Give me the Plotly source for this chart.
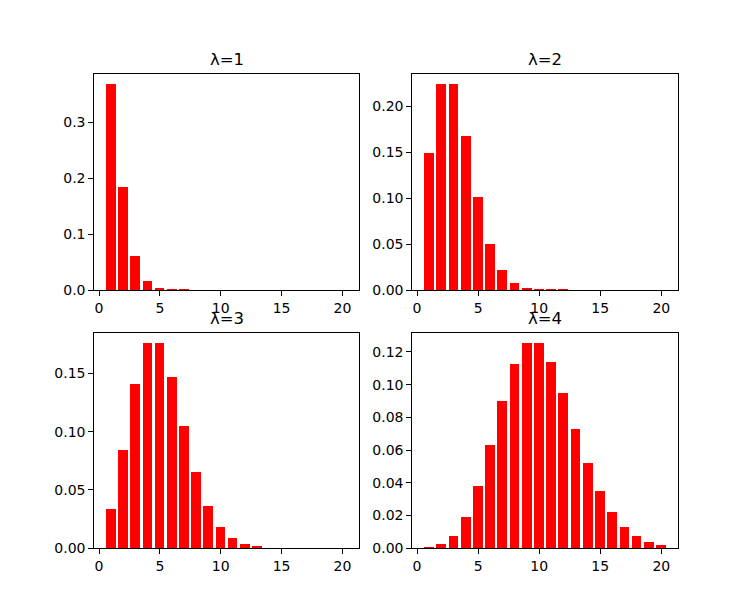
import plotly.graph_objects as go

W, H = 753, 616

x_vals = list(range(1, 21))
titles = ["λ=1", "λ=2", "λ=3", "λ=4"]
p1 = [0.3679, 0.1839, 0.0613, 0.0153, 0.0031, 0.0010, 0.0010, 0, 0, 0,
      0, 0, 0, 0, 0, 0, 0, 0, 0, 0]
p2 = [0.1494, 0.2240, 0.2240, 0.1680, 0.1008, 0.0504, 0.0216, 0.0081, 0.0027, 0.0008,
      0.0005, 0.0005, 0, 0, 0, 0, 0, 0, 0, 0]
p3 = [0.0337, 0.0842, 0.1404, 0.1755, 0.1755, 0.1462, 0.1044, 0.0653, 0.0363, 0.0181,
      0.0082, 0.0034, 0.0010, 0, 0, 0, 0, 0, 0, 0]
p4 = [0.0005, 0.0023, 0.0076, 0.0189, 0.0378, 0.0631, 0.0901, 0.1126, 0.1251, 0.1251,
      0.1137, 0.0948, 0.0729, 0.0521, 0.0347, 0.0217, 0.0128, 0.0071, 0.0037, 0.0019]
series = [p1, p2, p3, p4]
ytick_sets = [
    ([0, 0.1, 0.2, 0.3], ["0.0", "0.1", "0.2", "0.3"]),
    ([0, 0.05, 0.10, 0.15, 0.20], ["0.00", "0.05", "0.10", "0.15", "0.20"]),
    ([0, 0.05, 0.10, 0.15], ["0.00", "0.05", "0.10", "0.15"]),
    ([0, 0.02, 0.04, 0.06, 0.08, 0.10, 0.12], ["0.00", "0.02", "0.04", "0.06", "0.08", "0.10", "0.12"]),
]

# axes boxes in pixels (left, right, top, bottom)
boxes = [
    (94.3, 359.3, 74.0, 290.0),
    (412.3, 678.3, 74.0, 290.0),
    (94.3, 359.3, 333.3, 548.3),
    (412.3, 678.3, 333.3, 548.3),
]

fig = go.Figure()
font = dict(family="DejaVu Sans", size=14, color="black")
annotations = []
for i, (vals, box) in enumerate(zip(series, boxes)):
    n = i + 1
    xa = "x" if n == 1 else f"x{n}"
    ya = "y" if n == 1 else f"y{n}"
    fig.add_trace(go.Bar(x=x_vals, y=vals, width=0.8, marker=dict(color="#ff0000", line=dict(width=0)),
                         xaxis=xa, yaxis=ya, showlegend=False))
    l, r, t, b = box
    xd = [l / W, r / W]
    yd = [1 - b / H, 1 - t / H]
    ymax = max(vals) * 1.05
    axcommon = dict(showline=True, linecolor="black", linewidth=1, mirror=True,
                    ticks="outside", ticklen=5, tickwidth=1, tickcolor="black",
                    showgrid=False, zeroline=False, tickfont=font, automargin=False)
    fig.update_layout(**{
        ("xaxis" if n == 1 else f"xaxis{n}"): dict(domain=xd, range=[-0.39, 21.39],
                                                    tickvals=[0, 5, 10, 15, 20],
                                                    anchor=ya, **axcommon),
        ("yaxis" if n == 1 else f"yaxis{n}"): dict(domain=yd, range=[0, ymax],
                                                    tickvals=ytick_sets[i][0],
                                                    ticktext=ytick_sets[i][1],
                                                    anchor=xa, **axcommon),
    })
    annotations.append(dict(text=titles[i], x=(xd[0] + xd[1]) / 2, y=yd[1],
                            xref="paper", yref="paper", xanchor="center", yanchor="bottom",
                            yshift=3, showarrow=False,
                            font=dict(family="DejaVu Sans", size=16.5, color="black")))

fig.update_layout(width=W, height=H, margin=dict(l=0, r=0, t=0, b=0, pad=0, autoexpand=False),
                  paper_bgcolor="white", plot_bgcolor="white",
                  annotations=annotations, bargap=0)
fig.write_html("out.html", config={"displayModeBar": False})
